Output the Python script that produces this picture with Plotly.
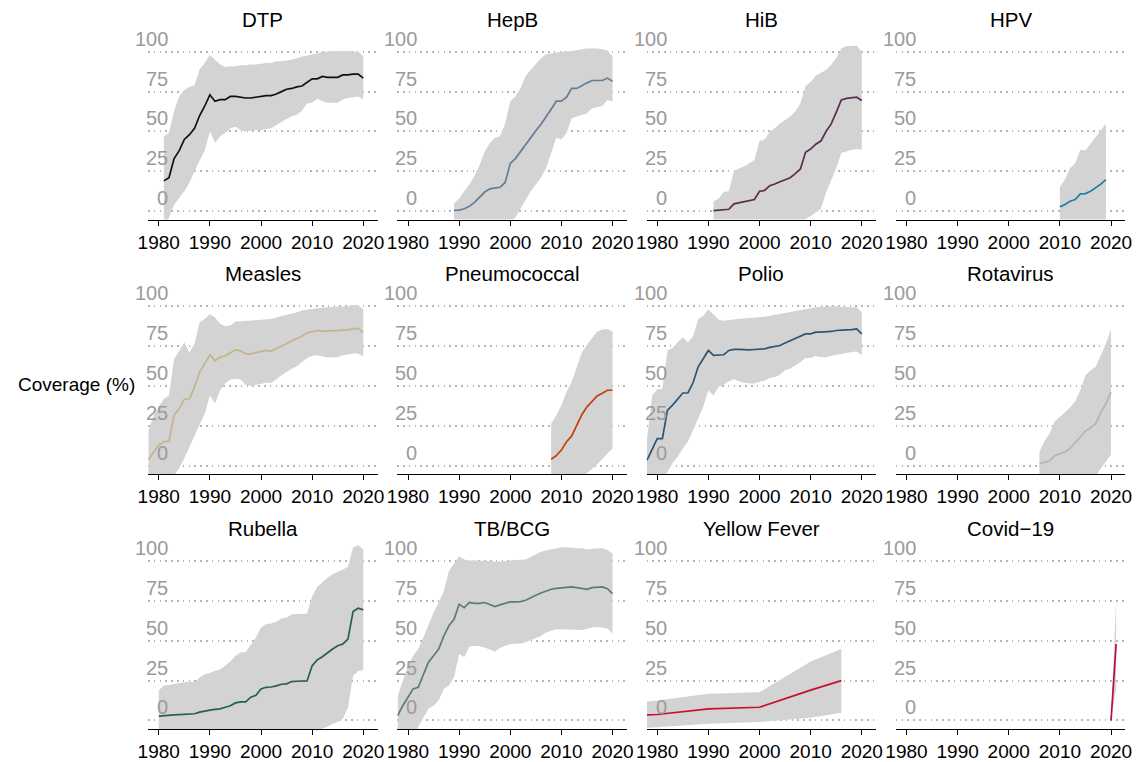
import plotly.graph_objects as go

# ---------------------------------------------------------------------------
# Vaccine coverage (%) by year: central estimate with lower / upper range
# ---------------------------------------------------------------------------
dtp_years = list(range(1981, 2021))
dtp_cov = [19, 21, 33, 38, 45, 48, 52, 60, 66, 73, 69, 70, 70, 72, 72, 71.5, 71, 71, 71.5, 72,
           72.5, 72.5, 73.5, 75, 76.5, 77, 78, 78.5, 81, 83, 83, 84.5, 84, 84, 84, 85.5, 85.5, 86, 86, 83.5]
dtp_hi = [47, 49, 63, 72, 76, 78, 79, 89, 93, 98, 95, 92, 90.5, 91, 91, 91.5, 91.5, 92, 92, 92.5,
          93, 93, 94, 94, 94.5, 95, 96, 97, 97.5, 98.5, 99, 100, 100, 100.5, 100.5, 100.5, 100.5, 100, 100, 97]
dtp_lo = [-12, -4, 4, 8, 12.5, 18, 25, 32, 38, 50, 43, 47, 49, 52, 53, 51, 50, 50.5, 51, 51,
          51.5, 52, 54, 56, 58, 59.5, 60.5, 63, 67.5, 68, 70.5, 69, 68, 68, 68, 70, 71, 71.5, 72, 70]

hepb_years = list(range(1989, 2021))
hepb_cov = [0.5, 0.7, 1.5, 3, 5.5, 9, 12, 14, 14.5, 15, 18, 30, 33, 37.5, 42, 46.5, 50.5, 54.5, 59, 64,
            69, 69, 71.5, 77, 77, 79, 80.5, 82, 82, 82, 83.5, 81.5]
hepb_hi = [5, 8, 12.5, 16.7, 22, 29, 37.5, 42.7, 46, 47, 55, 69, 72, 77, 85, 88.5, 92, 96, 98.5, 99,
           99.4, 100, 100, 100.6, 101, 101.7, 102, 102, 102, 101.5, 101, 97]
hepb_lo = [-30, -28, -26, -24, -22, -20, -18, -16, -14, -12, -10, -7, -4, 1, 7, 12.5, 16.7, 21, 27, 36.5,
           46, 45, 49, 58.3, 59.4, 60.4, 61.5, 64.6, 65.2, 66, 69.8, 68.75]

hib_years = list(range(1991, 2021))
hib_cov = [0.4, 0.6, 1, 1.2, 4.6, 5.2, 5.8, 6.7, 7.3, 12.5, 13, 16, 17, 18.5, 19.8, 21, 23.5, 26.5, 37, 39,
           42, 44, 50, 54.6, 62, 69.8, 70.8, 71.3, 71.5, 69.4]
hib_hi = [6, 8, 12, 12.5, 25, 27, 28, 30, 32, 44, 45, 50, 52, 55, 57, 59.4, 62.5, 67.7, 78.5, 81,
          85, 86.5, 88.5, 91.7, 96, 102, 103.7, 103.7, 104, 100]
hib_lo = [-40, -38, -36, -34, -32, -30, -28, -26, -24, -22, -20, -18, -16, -14, -12, -10, -8, -6, -5, -3,
          -1, 1.5, 11.5, 19, 27, 36.5, 37.5, 38.5, 39, 38.5]

hpv_years = list(range(2010, 2020))
hpv_cov = [2.7, 4.2, 6.25, 7.3, 10.8, 11, 12.5, 14.6, 17, 19.8]
hpv_hi = [15.2, 19.8, 27, 30, 38.5, 38, 42.3, 46.5, 50, 54.8]
hpv_lo = [-22, -21, -20, -19, -18, -17, -16, -15, -14, -13]

measles_years = list(range(1978, 2021))
measles_cov = [3.75, 8.75, 13, 15, 15.4, 31.7, 35.8, 41.7, 42, 49.4,
               58.75, 64, 69.6, 65.8, 68, 69, 70.8, 72.7, 72, 70.2,
               70.2, 70.8, 71.7, 72.3, 71.9, 73.3, 75, 76.5, 78.3, 79.6,
               81.25, 83.3, 84.2, 84.8, 84.4, 84.4, 84.4, 84.8, 85, 85.2,
               86, 86, 83.75]
measles_hi = [22, 31.7, 37, 42, 44, 67, 72, 77.5, 71, 76.5,
              90, 92, 95, 93, 89, 87.5, 88, 90.4, 90.6, 90.8,
              91, 91.5, 91.7, 92, 92, 93, 93.75, 94.6, 95.6, 96.25,
              97.3, 98, 98.3, 98.75, 99.2, 99.4, 99.6, 99.8, 100, 100,
              100.8, 100.8, 98]
measles_lo = [-25, -22, -19, -16, -12, -6, -1.7, 4.6, 11.9, 19,
              25.4, 32.7, 44, 39, 47.3, 51.5, 54, 54.6, 54, 50.8,
              50, 50.4, 51.25, 52, 52, 54, 56.7, 58.75, 60.8, 62.3,
              65, 67.5, 68.75, 69.2, 68.5, 68, 67.9, 68, 69.2, 69.8,
              70.4, 70.4, 68.5]

pneumo_years = list(range(2008, 2021))
pneumo_cov = [4, 6.25, 9.8, 15, 18.5, 25.4, 32, 36.9, 40.4, 43.75, 45.4, 47.3, 47.3]
pneumo_hi = [26.5, 31.7, 37.9, 46.25, 52.5, 61.9, 70.8, 75.8, 80, 84.2, 85.4, 85.8, 84.2]
pneumo_lo = [-30, -26, -22, -18, -14, -10, -7, -4.8, -2, 0.8, 4, 7.7, 10.8]

polio_years = list(range(1978, 2021))
polio_cov = [3.5, 10, 17, 17, 34.8, 38, 42, 45.6, 45.6, 52,
             62, 67.5, 72.3, 69.2, 69.6, 69.6, 72.3, 72.9, 72.9, 72.7,
             72.7, 72.9, 72.9, 73.3, 74.2, 74.8, 75.4, 77, 78.5, 79.6,
             81.25, 82.7, 82.7, 83.75, 83.75, 83.75, 84.2, 84.8, 84.8, 85.2,
             85.4, 85.8, 82.7]
polio_hi = [17, 44, 48, 48.3, 72.3, 73.75, 77.5, 80.6, 77.5, 81,
            92, 94, 98, 95, 91.7, 91, 91.5, 92, 92.2, 92.4,
            92.6, 92.8, 93, 93.5, 94, 94.6, 95.2, 95.8, 96.5, 97.3,
            97.8, 98.3, 98.8, 99.4, 99.7, 100, 100, 100, 99.7, 99.4,
            99.4, 99.4, 96.25]
polio_lo = [-30, -24, -18, -12, -3.75, 1.5, 5.6, 10.8, 15, 22.3,
            29.6, 36.9, 47.3, 44, 49.4, 50.8, 53, 54.2, 53, 52,
            51.5, 51.5, 52.5, 53.5, 55, 55.6, 57, 59.8, 60.8, 63,
            65, 67.5, 67.5, 68.75, 68, 68, 68.75, 69.6, 70.2, 70.8,
            71.25, 71.7, 69.2]

rota_years = list(range(2006, 2021))
rota_cov = [1, 1.9, 3.1, 6.25, 7.7, 8.75, 10.8, 14.4, 18, 21.7, 23.75, 26.5, 33.3, 39, 46.25]
rota_hi = [8.75, 15.4, 20.2, 27.9, 30.6, 33.3, 36.5, 40.4, 47.3, 56.7, 59.8, 61.9, 69.2, 76.5, 85.4]
rota_lo = [-30, -28, -26, -24, -22, -20, -18, -16, -13, -10, -8.5, -6.9, -1.7, 2.5, 7]

rubella_years = list(range(1980, 2021))
rubella_cov = [2.7, 3.1, 3.3, 3.5, 3.7, 4, 4.1, 4.2, 5.2, 6,
               6.5, 7, 7.3, 8.3, 9.2, 11, 11.7, 11.7, 14.6, 15.8,
               19.8, 20.8, 21, 21.7, 22.7, 23, 24.4, 24.6, 24.6, 24.8,
               34.4, 38, 40, 42.7, 44.8, 46.9, 48, 51, 68.3, 70.4,
               69.4]
rubella_hi = [19, 21.9, 22.3, 23, 23.5, 24, 24.4, 24, 27, 29,
              29.8, 31.25, 31.9, 34.4, 37, 40.6, 42.7, 43, 47.5, 52,
              58.3, 60.4, 60.8, 62, 64, 64.6, 66.7, 67, 67, 67,
              78, 83.75, 86.5, 89.6, 91.7, 93.3, 94.8, 96.25, 108.75, 110,
              107.3]
rubella_lo = [-20, -20, -20, -20, -20, -20, -20, -20, -19, -19,
              -18, -18, -17, -17, -16, -15, -14, -14, -13, -12,
              -11, -11, -10, -10, -10, -9, -9, -9, -9, -9,
              -8, -7, -5, -4, -2, -1, 1, 8, 28, 31,
              31.5]

tb_years = list(range(1978, 2021))
tb_cov = [3.1, 9.4, 14.6, 19.8, 20.8, 29, 36.5, 40.6, 44.8, 53,
          59.4, 63.5, 72.9, 70.8, 74, 73.5, 73.5, 74, 72.9, 71.5,
          72.5, 73.5, 74.4, 74.4, 74.6, 75.4, 76.7, 78.5, 80, 81.25,
          82.3, 82.9, 83.3, 83.75, 83.75, 83.3, 82.7, 82.3, 83.3, 83.75,
          83.75, 82.7, 79.6]
tb_hi = [15.6, 25, 34.4, 40.6, 44.8, 52, 60.4, 67.7, 74, 81.25,
         93.75, 98.3, 103, 101, 100.4, 100.4, 100.4, 100, 100, 99.6,
         100, 100.4, 100.4, 100.6, 100.6, 101, 102.5, 104, 105.8, 106.7,
         107.3, 108.3, 108.75, 108.75, 108.3, 108, 108, 107.3, 107.7, 108,
         108, 106.9, 104.8]
tb_lo = [-30, -25, -20, -12, -4, 2, 7.3, 9.4, 12.5, 19.8,
         21.9, 27, 41.7, 39.6, 46.25, 46.9, 46.5, 45.8, 44.8, 43.3,
         45.4, 46.9, 47.9, 48.3, 48.3, 49, 50, 51.7, 53, 55.2,
         56.25, 57.3, 57.3, 57.3, 57.1, 56.9, 56.7, 57.3, 58.3, 58.7,
         58.3, 57.7, 54.6]

yf_years = [1978, 1980, 1990, 2000, 2010, 2016]
yf_cov = [3.5, 3.75, 7.3, 8.3, 19, 25]
yf_hi = [11.9, 12.5, 16.7, 17.7, 37, 44.8]
yf_lo = [-4.6, -4.2, -2, -1, 1.7, 4.8]

covid_years = [2020, 2021]
covid_cov = [0, 48]
covid_hi = [0, 76]
covid_lo = [0, 20]

panel_titles = ["DTP", "HepB", "HiB", "HPV",
                "Measles", "Pneumococcal", "Polio", "Rotavirus",
                "Rubella", "TB/BCG", "Yellow Fever", "Covid\u221219"]
line_colors = ["#111111", "#647d96", "#5b2d4e", "#1d7ea8",
               "#c4b48c", "#c2410c", "#2d5473", "#b9b3a8",
               "#275e58", "#5c7d6e", "#c8102e", "#b5123d"]
series = [
    (dtp_years, dtp_cov, dtp_lo, dtp_hi),
    (hepb_years, hepb_cov, hepb_lo, hepb_hi),
    (hib_years, hib_cov, hib_lo, hib_hi),
    (hpv_years, hpv_cov, hpv_lo, hpv_hi),
    (measles_years, measles_cov, measles_lo, measles_hi),
    (pneumo_years, pneumo_cov, pneumo_lo, pneumo_hi),
    (polio_years, polio_cov, polio_lo, polio_hi),
    (rota_years, rota_cov, rota_lo, rota_hi),
    (rubella_years, rubella_cov, rubella_lo, rubella_hi),
    (tb_years, tb_cov, tb_lo, tb_hi),
    (yf_years, yf_cov, yf_lo, yf_hi),
    (covid_years, covid_cov, covid_lo, covid_hi),
]

x_ticks = [1980, 1990, 2000, 2010, 2020]
y_ticks = [0, 25, 50, 75, 100]
y_tick_text = ["0", "25", "50", "75", "100"]
y_title = "Coverage (%)"

# ---------------------------------------------------------------------------
# Page geometry (pixels)
# ---------------------------------------------------------------------------
W, H = 1146, 762
X_RANGE = [1977.9, 2022.8]
Y_RANGE = [-5.3, 112]
PX_PER_YEAR = 5.19
PX_PER_UNIT = 1.6
col_left = [140.1, 393.1, 646.1, 899.1]
row_zero = [212.0, 467.5, 723.3]
panel_w = (X_RANGE[1] - X_RANGE[0]) * PX_PER_YEAR

FONT = "Liberation Sans, Arial, Helvetica, sans-serif"
BAND = "#d3d3d3"
LABEL_GREY = "#9b9b9b"
GRID_GREY = "#b5b5b5"

fig = go.Figure()
annotations = []
layout_axes = {}

for i, (yrs, cov, lo, hi) in enumerate(series):
    r, c = divmod(i, 4)
    n = "" if i == 0 else str(i + 1)
    xa, ya = "x" + n, "y" + n

    left = col_left[c]
    right = left + panel_w
    bottom = row_zero[r] - Y_RANGE[0] * PX_PER_UNIT
    top = row_zero[r] - Y_RANGE[1] * PX_PER_UNIT

    layout_axes["xaxis" + n] = dict(
        domain=[left / W, right / W], range=X_RANGE, anchor=ya,
        tickvals=x_ticks, ticktext=[str(t) for t in x_ticks],
        ticks="outside", ticklen=5, tickwidth=1.2, tickcolor="#000",
        showline=True, linecolor="#000", linewidth=1.4,
        showgrid=False, zeroline=False, fixedrange=True,
        tickfont=dict(size=19, color="#000", family=FONT),
    )
    layout_axes["yaxis" + n] = dict(
        domain=[1 - bottom / H, 1 - top / H], range=Y_RANGE, anchor=xa,
        tickvals=y_ticks, showticklabels=False, ticks="",
        showgrid=True, gridcolor=GRID_GREY, gridwidth=1.5, griddash="1.6px,4.2px",
        showline=False, zeroline=False, fixedrange=True,
    )

    # uncertainty band as a closed polygon
    fig.add_trace(go.Scatter(
        x=list(yrs) + list(yrs)[::-1], y=list(hi) + list(lo)[::-1],
        xaxis=xa, yaxis=ya, mode="lines", fill="toself", fillcolor=BAND,
        line=dict(width=0, color=BAND), hoverinfo="skip", showlegend=False,
    ))
    # central estimate
    fig.add_trace(go.Scatter(
        x=yrs, y=cov, xaxis=xa, yaxis=ya, mode="lines",
        line=dict(color=line_colors[i], width=1.7),
        showlegend=False, name=panel_titles[i],
    ))

    # facet title
    annotations.append(dict(
        text=panel_titles[i], xref=xa + " domain", yref=ya + " domain",
        x=0.5, y=1, xanchor="center", yanchor="middle", yshift=13.5,
        showarrow=False, font=dict(size=20.5, color="#000", family=FONT),
    ))
    # y tick labels sitting just above each gridline, inside the panel
    for v, t in zip(y_ticks, y_tick_text):
        annotations.append(dict(
            text=t, xref=xa + " domain", yref=ya,
            x=22.5 / panel_w, y=v, xanchor="right", yanchor="middle", yshift=13,
            showarrow=False, font=dict(size=20, color=LABEL_GREY, family=FONT),
        ))

annotations.append(dict(
    text=y_title, xref="paper", yref="paper",
    x=67.5 / W, y=1 - 386 / H, xanchor="center", yanchor="middle",
    showarrow=False, font=dict(size=19, color="#000", family=FONT),
))

fig.update_layout(
    width=W, height=H,
    margin=dict(l=0, r=0, t=0, b=0),
    paper_bgcolor="white", plot_bgcolor="white",
    font=dict(family=FONT),
    annotations=annotations,
    showlegend=False,
    **layout_axes,
)

fig.write_html("out.html")
